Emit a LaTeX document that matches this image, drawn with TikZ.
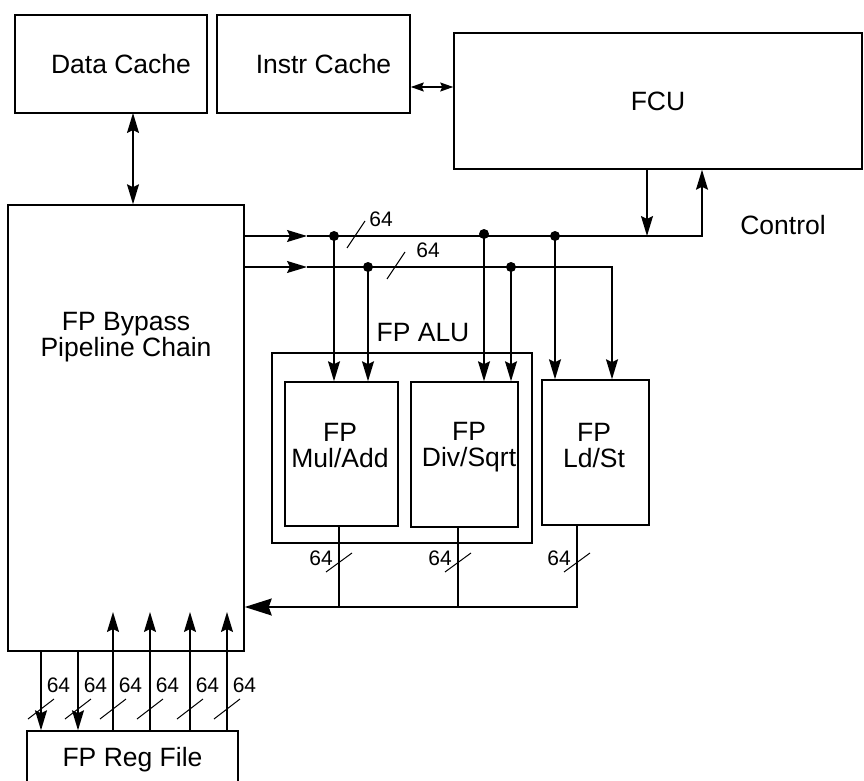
\documentclass[tikz,border=0pt]{standalone}
\usepackage{fontspec}
\setmainfont{Liberation Sans}
\usetikzlibrary{arrows.meta}
\begin{document}
\begin{tikzpicture}[x=1pt,y=-1pt,
  line width=1.5pt,
  >={Stealth[length=20pt,width=12pt,inset=3pt]},
  box/.style={draw,rectangle,inner sep=0pt,font=\fontsize{26.5}{27}\selectfont,align=center},
  txt/.style={inner sep=0pt,font=\fontsize{26.5}{26}\selectfont,align=center},
  lbl/.style={inner sep=0pt,font=\fontsize{21}{22}\selectfont},
  busdot/.style={circle,fill,inner sep=0pt,minimum size=10pt},
  slash/.style={line width=1pt}
]
\useasboundingbox (0,0) rectangle (864,781);
% boxes
\node[box,minimum width=192pt,minimum height=98pt] (dc) at (111,64) {\hspace*{20pt}Data Cache};
\node[box,minimum width=193pt,minimum height=98pt] (ic) at (313.5,64) {\hspace*{20pt}Instr Cache};
\node[box,minimum width=408pt,minimum height=136pt] (fcu) at (658,101) {\raisebox{-7pt}{FCU}};
\node[box,minimum width=236pt,minimum height=446pt] (byp) at (126,428) {};
\node[txt] (byptxt) at (126,337) {FP Bypass\\Pipeline Chain};
\node[box,minimum width=211pt,minimum height=78pt] (reg) at (132.5,770) {};
\node[txt] (regtxt) at (132.5,760) {FP Reg File};
\node[box,minimum width=260pt,minimum height=190pt] (alu) at (402,448) {};
\node[txt] (alutxt) at (423,333) {FP ALU};
\node[box,minimum width=113pt,minimum height=144pt] (mul) at (341.5,454) {};
\node[txt] (multxt) at (340,446) {FP\\Mul/Add};
\node[box,minimum width=107pt,minimum height=145pt] (div) at (464.5,454.5) {};
\node[txt] (divtxt) at (469,447) {FP\\Div/Sqrt};
\node[box,minimum width=107pt,minimum height=145pt] (ldst) at (595.5,452.5) {};
\node[txt] (ldsttxt) at (594,446) {FP\\Ld/St};
\node[txt] (ctrl) at (783,225) {Control};

% cache connections
\draw[<->] (133,113) coordinate (dcs) -- (dcs |- byp.north);
\draw[{Stealth[length=13pt,width=9pt,inset=2pt]}-{Stealth[length=13pt,width=9pt,inset=2pt]}] (ic.east |- 0,87) coordinate (ice) -- (ice -| fcu.west);

% bus coordinates
\coordinate (b1a) at (307,236);
\coordinate (b2a) at (307,267);
\coordinate (b1e) at (702,236);
\coordinate (b2e) at (612,267);
\coordinate (fd) at (647,236);
\node[busdot] (d1) at (334,236) {};
\node[busdot] (d2) at (484,234) {};
\node[busdot] (d3) at (555,236) {};
\node[busdot] (e1) at (368,267) {};
\node[busdot] (e2) at (511,267) {};

\draw[->] (byp.east |- b1a) -- (b1a);
\draw[->] (b1a) -- (b1e) -- (b1e |- fcu.south);
\draw[->] (fd |- fcu.south) -- (fd);
\draw[->] (byp.east |- b2a) -- (b2a);
\draw[->] (b2a) -- (b2e) -- (b2e |- ldst.north);

\draw[->] (d1.center) -- (d1 |- mul.north);
\draw[->] (e1.center) -- (e1 |- mul.north);
\draw[->] (d2.center) -- (d2 |- div.north);
\draw[->] (e2.center) -- (e2 |- div.north);
\draw[->] (d3.center) -- (d3 |- ldst.north);

% bus width marks
\draw[slash] (347,248) -- (365,221);
\node[lbl] (l1) at (381,219) {64};
\draw[slash] (387,279) -- (405,252);
\node[lbl] (l2) at (428,250) {64};

% outputs
\coordinate (o1) at (339,607);
\coordinate (o2) at (458,607);
\coordinate (o3) at (577,607);
\draw (mul.south -| o1) -- (o1);
\draw (div.south -| o2) -- (o2);
\draw[-{Stealth[length=27pt,width=17pt,inset=3pt]}] (ldst.south -| o3) -- (o3) -- (o3 -| byp.east);
\foreach \x/\n in {339/p1,458/p2,577/p3}{
  \draw[slash] (\x-13,572) -- (\x+13,553);
  \node[lbl] (\n) at (\x-18,558) {64};
}

% register file connections
\foreach \x/\n in {41/r1,78/r2}{
  \coordinate (\n) at (\x,731);
  \draw[->] (\n |- byp.south) -- (\n |- reg.north);
}
\foreach \x/\n in {113/r3,150/r4,190/r5,227/r6}{
  \coordinate (\n) at (\x,612);
  \draw[->] (\n |- reg.north) -- (\n);
}
\foreach \x/\n in {41/q1,78/q2,113/q3,150/q4,190/q5,227/q6}{
  \draw[slash] (\x-13,719) -- (\x+13,699);
  \node[lbl,anchor=west] (\n) at (\x+5,685) {64};
}
\end{tikzpicture}
\end{document}
